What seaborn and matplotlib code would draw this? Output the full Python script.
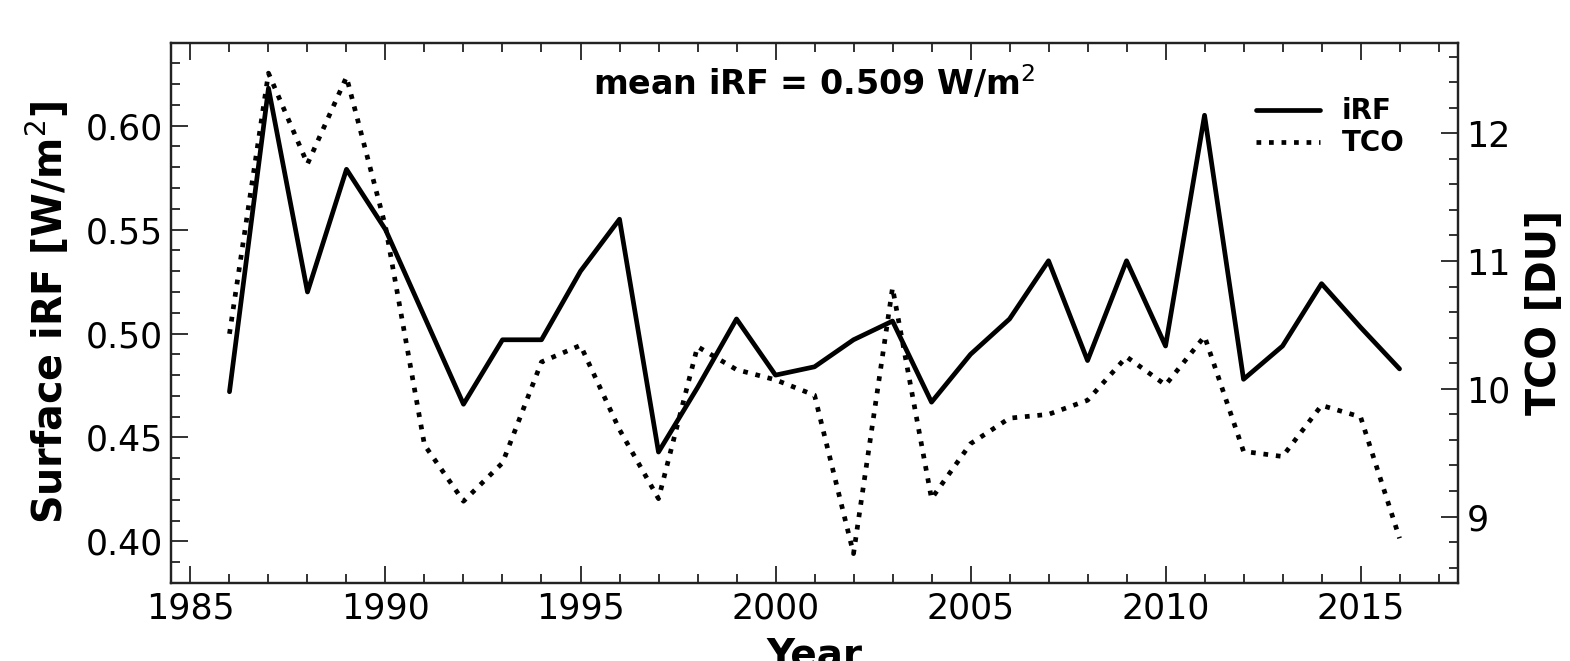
import numpy as np
import pandas as pd
import seaborn as sns
import matplotlib.pyplot as plt
from matplotlib.ticker import MultipleLocator

# Data
years = list(range(1986, 2017))
irf = [0.472, 0.618, 0.520, 0.579, 0.550, 0.508, 0.466, 0.497, 0.497, 0.530,
       0.555, 0.443, 0.474, 0.507, 0.480, 0.484, 0.497, 0.506, 0.467, 0.490,
       0.507, 0.535, 0.487, 0.535, 0.494, 0.605, 0.478, 0.494, 0.524, 0.503,
       0.483]
tco = [10.43, 12.47, 11.76, 12.44, 11.27, 9.56, 9.12, 9.42, 10.21, 10.34,
       9.68, 9.14, 10.33, 10.15, 10.07, 9.95, 8.71, 10.79, 9.14, 9.57,
       9.77, 9.80, 9.91, 10.25, 10.03, 10.41, 9.51, 9.47, 9.87, 9.78,
       8.83]
mean_irf = 0.509

df = pd.DataFrame({"year": years, "iRF": irf, "TCO": tco})

sns.set_style("ticks")
plt.rcParams["font.family"] = ["DejaVu Sans"]
plt.rcParams["text.color"] = "black"
plt.rcParams["axes.labelcolor"] = "black"
plt.rcParams["xtick.color"] = "black"
plt.rcParams["ytick.color"] = "black"

fig = plt.figure(figsize=(15.7, 6.61), dpi=100)
ax = fig.add_axes([0.1089, 0.118, 0.8198, 0.8177])
ax2 = ax.twinx()

sns.lineplot(data=df, x="year", y="iRF", ax=ax, color="black", lw=3.4,
             label="iRF", legend=False)
sns.lineplot(data=df, x="year", y="TCO", ax=ax2, color="black", lw=3.4,
             linestyle=":", label="TCO", legend=False)

ax.set_xlim(1984.5, 2017.5)
ax.set_ylim(0.38, 0.64)
ax2.set_ylim(8.48, 12.71)

ax.xaxis.set_major_locator(MultipleLocator(5))
ax.xaxis.set_minor_locator(MultipleLocator(1))
ax.yaxis.set_major_locator(MultipleLocator(0.05))
ax.yaxis.set_minor_locator(MultipleLocator(0.01))
ax2.yaxis.set_major_locator(MultipleLocator(1))
ax2.yaxis.set_minor_locator(MultipleLocator(0.2))
ax.yaxis.set_major_formatter(plt.FormatStrFormatter("%.2f"))

for a in (ax, ax2):
    a.tick_params(which="major", direction="in", length=12, width=1.3,
                  labelsize=25, pad=6, colors="#222222", labelcolor="black")
    a.tick_params(which="minor", direction="in", length=6.5, width=1.3,
                  colors="#222222")
    for s in a.spines.values():
        s.set_linewidth(1.6)
        s.set_color("#222222")
ax.tick_params(axis="x", which="both", top=True)
ax.tick_params(axis="y", which="both", right=False)

ax.set_xlabel("Year", fontsize=28, fontweight="bold", labelpad=8)
ax.set_ylabel("Surface iRF [W/m$^2$]", fontsize=28.5, fontweight="bold",
              labelpad=10)
ax2.set_ylabel("TCO [DU]", fontsize=28.5, fontweight="bold", labelpad=10)

ax.text(0.5, 0.925, f"mean iRF = {mean_irf:.3f} W/m$^2$", transform=ax.transAxes,
        ha="center", va="center", fontsize=24, fontweight="bold")

h1, l1 = ax.get_legend_handles_labels()
h2, l2 = ax2.get_legend_handles_labels()
leg = ax2.legend(h1 + h2, l1 + l2, loc="upper right", frameon=False,
                 prop={"size": 20, "weight": "bold"}, handlelength=2.3,
                 labelspacing=0.15, borderaxespad=0.6,
                 bbox_to_anchor=(0.98, 0.95))

fig.savefig("out.png", dpi=100)
